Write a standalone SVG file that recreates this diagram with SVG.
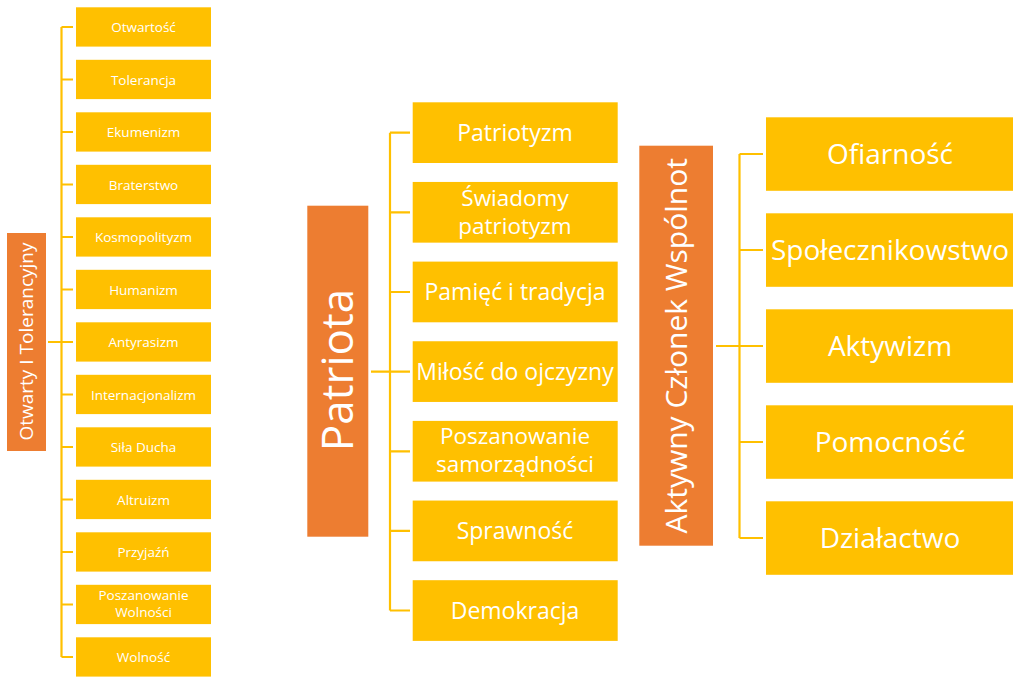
<svg xmlns="http://www.w3.org/2000/svg" width="1014" height="678" viewBox="0 0 1014 678">
<style>
.root{fill:#ED7D31}
.box{fill:#FFC000}
text{fill:#FFFFFF;font-family:"Open Sans","Noto Sans","Liberation Sans",sans-serif;text-anchor:middle}
.s{font-size:13.5px}
.m{font-size:23px}
.m2{font-size:22.5px}
.l{font-size:28px}
.conn{fill:none;stroke:#FFC000;stroke-width:2.2}
</style>
<rect width="1014" height="678" fill="#FFFFFF"/>
<g id="connectors" class="conn">
<path d="M61.5 27 V657 M48 342 H61.5 M61.5 27 H73 M61.5 79.5 H73 M61.5 132 H73 M61.5 184.5 H73 M61.5 237 H73 M61.5 289.5 H73 M61.5 342 H73 M61.5 394.5 H73 M61.5 447 H73 M61.5 499.5 H73 M61.5 552 H73 M61.5 604.5 H73 M61.5 657 H73"/>
<path d="M390 132.7 V610.5 M371 371.6 H390 M390 132.7 H410 M390 212.3 H410 M390 292 H410 M390 371.6 H410 M390 451.3 H410 M390 530.9 H410 M390 610.5 H410"/>
<path d="M739.5 154 V538 M716 346 H739.5 M739.5 154 H763 M739.5 250 H763 M739.5 346 H763 M739.5 442 H763 M739.5 538 H763"/>
</g>
<g id="root-otwarty">
<rect class="root" x="7" y="233" width="39" height="218"/>
<text transform="translate(26.4,341.5) rotate(-90)" x="0" y="7" style="font-size:19px">Otwarty I Tolerancyjny</text>
</g>
<g id="n-otwartosc"><rect class="box" x="76" y="7.3" width="135" height="39.3"/><text class="s" x="143.5" y="32">Otwartość</text></g>
<g id="n-tolerancja"><rect class="box" x="76" y="59.8" width="135" height="39.3"/><text class="s" x="143.5" y="84.5">Tolerancja</text></g>
<g id="n-ekumenizm"><rect class="box" x="76" y="112.3" width="135" height="39.3"/><text class="s" x="143.5" y="137">Ekumenizm</text></g>
<g id="n-braterstwo"><rect class="box" x="76" y="164.8" width="135" height="39.3"/><text class="s" x="143.5" y="189.5">Braterstwo</text></g>
<g id="n-kosmopolityzm"><rect class="box" x="76" y="217.3" width="135" height="39.3"/><text class="s" x="143.5" y="242">Kosmopolityzm</text></g>
<g id="n-humanizm"><rect class="box" x="76" y="269.8" width="135" height="39.3"/><text class="s" x="143.5" y="294.5">Humanizm</text></g>
<g id="n-antyrasizm"><rect class="box" x="76" y="322.3" width="135" height="39.3"/><text class="s" x="143.5" y="347">Antyrasizm</text></g>
<g id="n-internacjonalizm"><rect class="box" x="76" y="374.8" width="135" height="39.3"/><text class="s" x="143.5" y="399.5">Internacjonalizm</text></g>
<g id="n-sila-ducha"><rect class="box" x="76" y="427.3" width="135" height="39.3"/><text class="s" x="143.5" y="452">Siła Ducha</text></g>
<g id="n-altruizm"><rect class="box" x="76" y="479.8" width="135" height="39.3"/><text class="s" x="143.5" y="504.5">Altruizm</text></g>
<g id="n-przyjazn"><rect class="box" x="76" y="532.3" width="135" height="39.3"/><text class="s" x="143.5" y="557">Przyjaźń</text></g>
<g id="n-poszanowanie-wolnosci"><rect class="box" x="76" y="584.8" width="135" height="39.3"/><text class="s" x="143.5" y="600">Poszanowanie</text><text class="s" x="143.5" y="617.3">Wolności</text></g>
<g id="n-wolnosc"><rect class="box" x="76" y="637.3" width="135" height="39.3"/><text class="s" x="143.5" y="662">Wolność</text></g>

<g id="root-patriota">
<rect class="root" x="307.3" y="205.7" width="61" height="331"/>
<text transform="translate(337.8,370) rotate(-90)" x="0" y="15" style="font-size:44px">Patriota</text>
</g>
<g id="n-patriotyzm"><rect class="box" x="412.7" y="102.3" width="205" height="60.7"/><text class="m" x="515" y="141">Patriotyzm</text></g>
<g id="n-swiadomy"><rect class="box" x="412.7" y="181.95" width="205" height="60.7"/><text class="m2" x="515" y="205.9">Świadomy</text><text class="m2" x="515" y="233.9">patriotyzm</text></g>
<g id="n-pamiec"><rect class="box" x="412.7" y="261.6" width="205" height="60.7"/><text class="m" x="515" y="300.3">Pamięć i tradycja</text></g>
<g id="n-milosc"><rect class="box" x="412.7" y="341.25" width="205" height="60.7"/><text class="m" x="515" y="379.9">Miłość do ojczyzny</text></g>
<g id="n-samorzadnosc"><rect class="box" x="412.7" y="420.9" width="205" height="60.7"/><text class="m2" x="515" y="443.5">Poszanowanie</text><text class="m2" x="515" y="471.5">samorządności</text></g>
<g id="n-sprawnosc"><rect class="box" x="412.7" y="500.55" width="205" height="60.7"/><text class="m" x="515" y="539.2">Sprawność</text></g>
<g id="n-demokracja"><rect class="box" x="412.7" y="580.2" width="205" height="60.7"/><text class="m" x="515" y="618.9">Demokracja</text></g>

<g id="root-aktywny">
<rect class="root" x="639.3" y="145.7" width="73.7" height="400"/>
<text transform="translate(676.2,345.8) rotate(-90)" x="0" y="10.5" style="font-size:30px">Aktywny Członek Wspólnot</text>
</g>
<g id="n-ofiarnosc"><rect class="box" x="766" y="117.3" width="247" height="73.5"/><text class="l" x="890" y="163.7">Ofiarność</text></g>
<g id="n-spolecznikowstwo"><rect class="box" x="766" y="213.3" width="247" height="73.5"/><text class="l" x="890" y="259.7">Społecznikowstwo</text></g>
<g id="n-aktywizm"><rect class="box" x="766" y="309.3" width="247" height="73.5"/><text class="l" x="890" y="355.7">Aktywizm</text></g>
<g id="n-pomocnosc"><rect class="box" x="766" y="405.3" width="247" height="73.5"/><text class="l" x="890" y="451.7">Pomocność</text></g>
<g id="n-dzialactwo"><rect class="box" x="766" y="501.3" width="247" height="73.5"/><text class="l" x="890" y="547.7">Działactwo</text></g>
</svg>
